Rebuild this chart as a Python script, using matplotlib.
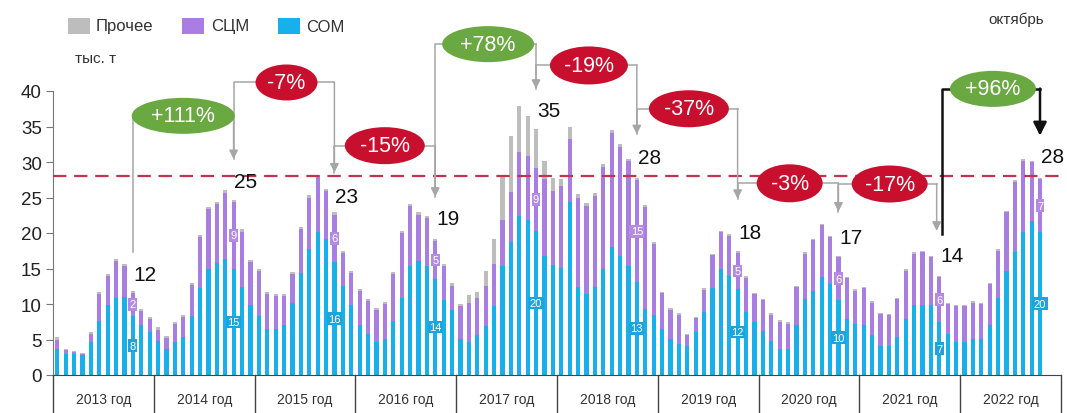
import matplotlib.pyplot as plt
import numpy as np
from matplotlib.patches import Ellipse, Rectangle

plt.rcParams['font.family'] = ['Liberation Sans', 'DejaVu Sans']

# monthly data, Jan 2013 - Oct 2022, thousand tonnes
years = list(range(2013, 2023))
som = [3.7, 3.0, 2.9, 2.8, 4.6, 7.6, 9.8, 10.9, 11.0, 8.3, 7.0, 6.0,          # 2013
       4.8, 3.7, 4.6, 5.3, 8.3, 12.3, 15.0, 15.8, 16.4, 14.9, 12.4, 9.8,       # 2014
       8.3, 6.5, 6.5, 7.0, 10.2, 14.4, 17.8, 20.2, 19.2, 15.9, 12.6, 9.8,      # 2015
       7.1, 5.8, 4.6, 5.1, 7.6, 10.9, 15.4, 16.1, 15.4, 13.5, 10.6, 9.1,       # 2016
       5.1, 4.6, 5.6, 6.9, 9.7, 15.3, 18.8, 22.4, 21.9, 20.3, 16.8, 15.5,      # 2017
       15.1, 24.3, 12.4, 11.4, 12.4, 14.9, 18.0, 16.8, 15.4, 13.1, 9.3, 8.4,   # 2018
       6.5, 5.1, 4.3, 4.1, 6.0, 8.9, 12.3, 14.9, 14.0, 12.1, 8.9, 7.5,         # 2019
       6.2, 4.8, 3.7, 3.7, 7.0, 10.7, 11.9, 13.8, 12.8, 10.5, 7.9, 7.2,        # 2020
       7.0, 5.6, 4.1, 4.1, 5.3, 7.9, 9.8, 9.8, 9.8, 7.4, 5.8, 4.6,             # 2021
       4.6, 5.1, 5.1, 7.0, 10.9, 14.7, 17.3, 20.1, 21.7, 20.1]                 # 2022
scm = [1.3, 0.5, 0.3, 0.2, 1.2, 3.8, 4.1, 5.2, 4.3, 3.3, 2.0, 1.9,
       1.6, 1.5, 2.6, 2.8, 4.4, 7.1, 8.4, 8.3, 9.3, 9.5, 7.8, 6.1,
       6.3, 4.9, 4.6, 4.1, 4.0, 6.1, 7.2, 7.7, 6.7, 6.7, 4.6, 4.6,
       4.7, 4.6, 4.5, 4.9, 6.6, 9.1, 8.4, 6.5, 6.7, 5.4, 4.7, 3.5,
       4.6, 5.6, 5.3, 5.7, 5.9, 6.5, 7.0, 9.0, 9.0, 8.9, 10.8, 10.4,
       11.5, 8.9, 12.6, 12.4, 12.8, 14.4, 16.1, 15.3, 14.7, 14.3, 14.4, 10.0,
       5.0, 4.1, 4.2, 1.5, 2.0, 3.1, 4.6, 5.2, 5.6, 5.1, 4.8, 3.9,
       4.3, 3.7, 3.8, 3.5, 5.4, 6.4, 7.1, 7.3, 6.6, 6.1, 5.7, 4.7,
       5.2, 4.6, 4.5, 4.3, 5.4, 6.8, 7.3, 7.5, 6.8, 6.4, 4.2, 5.1,
       5.1, 5.1, 4.9, 5.8, 6.6, 8.2, 9.9, 10.1, 8.3, 7.5]
other = [0.3, 0.2, 0.2, 0.1, 0.3, 0.3, 0.3, 0.3, 0.3, 0.3, 0.3, 0.3,
         0.3, 0.3, 0.3, 0.3, 0.3, 0.3, 0.3, 0.3, 0.3, 0.3, 0.3, 0.3,
         0.3, 0.3, 0.3, 0.3, 0.3, 0.3, 0.3, 0.3, 0.3, 0.3, 0.3, 0.3,
         0.3, 0.3, 0.3, 0.3, 0.3, 0.3, 0.3, 0.3, 0.3, 0.3, 0.3, 0.3,
         0.3, 1.0, 0.8, 2.1, 3.6, 6.3, 7.8, 6.5, 5.6, 5.4, 2.6, 1.9,
         1.0, 1.7, 0.5, 0.4, 0.4, 0.4, 0.4, 0.4, 0.3, 0.3, 0.3, 0.3,
         0.2, 0.2, 0.2, 0.2, 0.2, 0.2, 0.2, 0.2, 0.2, 0.2, 0.2, 0.2,
         0.2, 0.2, 0.2, 0.2, 0.2, 0.2, 0.2, 0.2, 0.2, 0.2, 0.2, 0.2,
         0.2, 0.2, 0.2, 0.2, 0.2, 0.2, 0.2, 0.2, 0.2, 0.2, 0.2, 0.2,
         0.2, 0.2, 0.2, 0.2, 0.2, 0.2, 0.2, 0.2, 0.2, 0.2]

# October labels
oct_total = [12, 25, 23, 19, 35, 28, 18, 17, 14, 28]
oct_label_y = [14.2, 27.2, 25.2, 22.1, 37.3, 30.7, 20.1, 19.4, 16.8, 30.8]
oct_scm = [2, 9, 6, 5, 9, 15, 5, 6, 6, 7]
oct_som = [8, 15, 16, 14, 20, 13, 12, 10, 7, 20]
changes = ['+111%', '-7%', '-15%', '+78%', '-19%', '-37%', '-3%', '-17%', '+96%']

C_SOM = '#18b0ea'
C_SCM = '#a97ee2'
C_OTH = '#bdbdbd'
RED = '#c8102e'
GREEN = '#6aa842'

W, H = 1067, 414
fig = plt.figure(figsize=(W / 100, H / 100), dpi=100)
ax = fig.add_axes([53 / W, 1 - 376 / H, 1008 / W, 376 / H])

som = np.array(som)
scm = np.array(scm)
other = np.array(other)
x = np.arange(len(som))
bw = 0.5
ax.bar(x, som, bw, color=C_SOM, zorder=2)
ax.bar(x, scm, bw, bottom=som, color=C_SCM, zorder=2)
ax.bar(x, other, bw, bottom=som + scm, color=C_OTH, zorder=2)

ax.set_xlim(-0.5, 119.5)
ax.set_ylim(0, 376 / 7.1)
ax.set_yticks(range(0, 41, 5))
ax.tick_params(axis='y', labelsize=13.5, length=5, color='#777', labelcolor='#222', pad=3)
ax.set_xticks([])
for s in ['top', 'right']:
    ax.spines[s].set_visible(False)
ax.spines['left'].set_bounds(0, 40)
ax.spines['left'].set_color('#777')
ax.spines['bottom'].set_color('#444')

# year separators and labels
ybot = -38 / 7.1
for k in range(len(years) + 1):
    ax.plot([12 * k - 0.5, 12 * k - 0.5], [0, ybot], color='#444', lw=1, clip_on=False)
for k, yr in enumerate(years):
    ax.text(12 * k + 5.5, -24 / 7.1, f'{yr} год', ha='center', va='center',
            fontsize=10, color='#333')

ax.axhline(28, color='#c23350', lw=1.6, dashes=(6, 3.5), zorder=3)

# October labels
for k in range(len(years)):
    i = 12 * k + 9
    ax.text(i + 0.1, oct_label_y[k], str(oct_total[k]), fontsize=15, ha='left', va='center', color='#111')
    ax.text(i, som[i] + scm[i] / 2, str(oct_scm[k]), fontsize=8, ha='center', va='center',
            color='white', zorder=4,
            bbox=dict(boxstyle='square,pad=0.12', fc='#b48ae4', ec='none'))
    ax.text(i, som[i] / 2, str(oct_som[k]), fontsize=8, ha='center', va='center',
            color='white', zorder=4,
            bbox=dict(boxstyle='square,pad=0.12', fc='#1ea4dc', ec='none'))

# brackets: (from month, start, level, to month, end, ellipse x, ellipse w px, ellipse h px)
brackets = [
    (9, 17.3, 36.5, 21, 30.4, 15.0, 103, 36),
    (21, 30.4, 41.2, 33, 28.5, 27.3, 62, 36),
    (33, 28.5, 32.3, 45, 25.1, 39.0, 80, 37),
    (45, 25.1, 46.6, 57, 40.3, 51.3, 92, 36),
    (57, 40.3, 43.6, 69, 33.9, 63.3, 78, 38),
    (69, 33.9, 37.5, 81, 24.8, 75.2, 80, 37),
    (81, 24.8, 27.0, 93, 23.0, 87.2, 66, 38),
    (93, 23.0, 26.9, 104.7, 20.3, 99.1, 76, 37),
    (105.3, 19.9, 40.3, 117, 33.7, 111.4, 86, 36),
]
for n, (a, ys, yl, b, ye, ex, ew, eh) in enumerate(brackets):
    last = n == len(brackets) - 1
    col = '#111' if last else '#a6a6a6'
    lw = 1.8 if last else 1.1
    ax.plot([a, a, b], [ys, yl, yl], color=col, lw=lw, clip_on=False, zorder=3)
    ax.annotate('', xy=(b, ye), xytext=(b, yl + 0.05),
                arrowprops=dict(arrowstyle='-|>', color=col, lw=lw,
                                mutation_scale=20 if last else 13,
                                shrinkA=0, shrinkB=0), annotation_clip=False, zorder=3)
    fc = GREEN if changes[n].startswith('+') else RED
    ax.add_patch(Ellipse((ex, yl), ew / 8.4, eh / 7.1, fc=fc, ec='none', zorder=5, clip_on=False))
    ax.text(ex, yl, changes[n], fontsize=15.5, color='white', ha='center', va='center', zorder=6)

# legend
items = [('Прочее', C_OTH, 68, 96), ('СЦМ', C_SCM, 182, 211), ('СОМ', C_SOM, 278, 306)]
for name, c, sx, tx in items:
    fig.add_artist(Rectangle((sx / W, 1 - 35 / H), 22 / W, 16 / H, fc=c, ec='none',
                             transform=fig.transFigure))
    fig.text(tx / W, 1 - 27 / H, name, fontsize=12, color='#333', va='center')

fig.text(75 / W, 1 - 59 / H, 'тыс. т', fontsize=11, color='#333', va='center')
fig.text(988 / W, 1 - 20 / H, 'октябрь', fontsize=11, color='#333', va='center')

fig.savefig('out.png', dpi=100)
